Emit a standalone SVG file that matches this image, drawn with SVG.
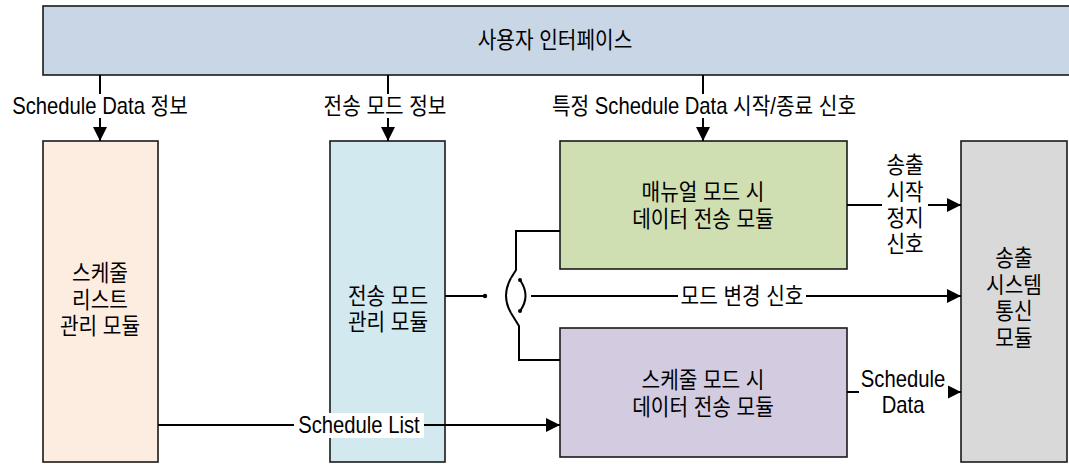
<svg xmlns="http://www.w3.org/2000/svg" width="1069" height="464" viewBox="0 0 1069 464">
<defs>
<style>
.box{stroke:#1a1a1a;stroke-width:1.6}
.ln{stroke:#000;stroke-width:2;fill:none}
text{font-family:"Liberation Sans","Noto Sans CJK KR",sans-serif;font-size:23px;fill:#000;text-anchor:middle;dominant-baseline:central;transform-box:fill-box;transform-origin:center;transform:scaleX(0.88)}
.lbl{fill:#fff}
</style>
<marker id="ah" viewBox="0 0 14 14" markerWidth="14" markerHeight="14" refX="14" refY="7" orient="auto" markerUnits="userSpaceOnUse">
<path d="M0,0 L14,7 L0,14 Z" fill="#000"/>
</marker>
</defs>
<rect width="1069" height="464" fill="#fff"/>

<g id="ui">
<rect class="box" x="43" y="6" width="1040" height="69" fill="#c9d6e5"/>
<text x="555" y="40">사용자 인터페이스</text>
</g>

<g id="schedule-list">
<rect class="box" x="43" y="141" width="115" height="321" fill="#fdede1"/>
<text x="100" y="273">스케줄</text>
<text x="100" y="300">리스트</text>
<text x="100" y="326">관리 모듈</text>
</g>

<g id="mode-mgmt">
<rect class="box" x="330" y="141" width="115" height="321" fill="#d3e9f0"/>
<text x="388" y="296">전송 모드</text>
<text x="388" y="322">관리 모듈</text>
</g>

<g id="manual">
<rect class="box" x="560" y="141" width="287" height="128" fill="#d0dfb1"/>
<text x="703" y="192">매뉴얼 모드 시</text>
<text x="703" y="219">데이터 전송 모듈</text>
</g>

<g id="sched-mode">
<rect class="box" x="560" y="328" width="287" height="129" fill="#d3cce0"/>
<text x="703" y="380">스케줄 모드 시</text>
<text x="703" y="407">데이터 전송 모듈</text>
</g>

<g id="tx-system">
<rect class="box" x="961" y="141" width="106" height="321" fill="#d9d9d9"/>
<text x="1014" y="258">송출</text>
<text x="1014" y="285">시스템</text>
<text x="1014" y="311">통신</text>
<text x="1014" y="338">모듈</text>
</g>

<g id="connectors">
<line class="ln" x1="100" y1="75" x2="100" y2="141" marker-end="url(#ah)"/>
<line class="ln" x1="388" y1="75" x2="388" y2="141" marker-end="url(#ah)"/>
<line class="ln" x1="703" y1="75" x2="703" y2="141" marker-end="url(#ah)"/>
<rect class="lbl" x="6" y="94" width="190" height="24"/>
<rect class="lbl" x="316" y="94" width="140" height="24"/>
<rect class="lbl" x="536" y="94" width="336" height="24"/>
<text x="100" y="106">Schedule Data 정보</text>
<text x="385" y="106">전송 모드 정보</text>
<text x="704" y="106">특정 Schedule Data 시작/종료 신호</text>

<line class="ln" x1="847" y1="205" x2="961" y2="205" marker-end="url(#ah)"/>
<rect class="lbl" x="882" y="152" width="46" height="104"/>
<text x="905" y="165">송출</text>
<text x="905" y="192">시작</text>
<text x="905" y="218">정지</text>
<text x="905" y="244">신호</text>

<line class="ln" x1="847" y1="392" x2="961" y2="392" marker-end="url(#ah)"/>
<rect class="lbl" x="859" y="366" width="89" height="52"/>
<text x="903" y="379">Schedule</text>
<text x="903" y="405">Data</text>

<line class="ln" x1="158" y1="425" x2="560" y2="425" marker-end="url(#ah)"/>
<rect class="lbl" x="294" y="413" width="130" height="25"/>
<text x="359" y="425">Schedule List</text>

<line class="ln" x1="445" y1="296" x2="485" y2="296"/>
<circle cx="485" cy="296" r="2.2" fill="#000"/>
<polyline class="ln" points="560,231 516,231 516,270 511,278"/>
<path class="ln" d="M511,278 Q501,296 511,313"/>
<polyline class="ln" points="511,313 519,326 519,360 560,360"/>
<path class="ln" d="M520,280 Q531,296 520,311"/>
<circle cx="520" cy="280" r="2" fill="#000"/>
<circle cx="520" cy="311" r="2" fill="#000"/>
<line class="ln" x1="531" y1="296" x2="961" y2="296" marker-end="url(#ah)"/>
<rect class="lbl" x="678" y="284" width="128" height="24"/>
<text x="742" y="296">모드 변경 신호</text>
</g>
</svg>
